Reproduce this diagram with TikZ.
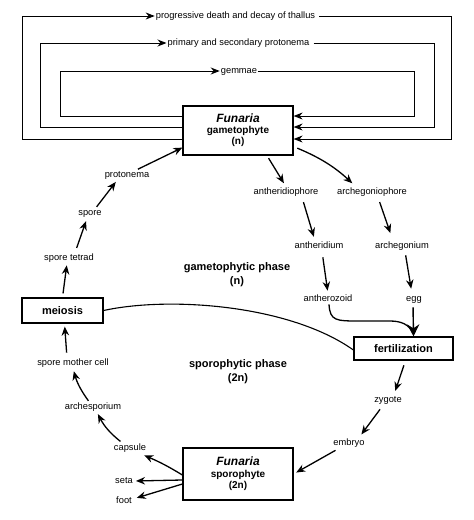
\documentclass[tikz,border=0pt]{standalone}
\usepackage{fontspec}
\setmainfont{Liberation Sans}
\usetikzlibrary{arrows.meta}
\begin{document}
\begin{tikzpicture}[x=1pt,y=-1pt,
  lbl/.style={font=\fontsize{9.3}{10}\selectfont, inner sep=1pt, text height=6.5pt, text depth=1.8pt},
  box/.style={draw, line width=1.2pt, align=center, inner sep=2pt, font=\fontsize{11}{12}\selectfont\bfseries},
  phase/.style={font=\bfseries, align=center},
  arr/.style={line width=1.3pt, -{Stealth[length=9pt,width=7.5pt]}},
  bigarr/.style={line width=1.4pt, -{Stealth[length=12pt,width=12pt]}},
  plainline/.style={line width=1pt},
  looparr/.style={line width=1pt, -{Stealth[length=9pt,width=7pt]}},
]
\useasboundingbox (0,0) rectangle (474,520);
\fill[white] (0,0) rectangle (474,520);

% boxes
\node[box, minimum width=110pt, minimum height=49pt] (gam) at (238,130.5)
  {{\fontsize{12}{13}\selectfont\bfseries\itshape Funaria}\\[-1pt]
   {\fontsize{10}{12}\selectfont gametophyte}\\[-1pt]
   {\fontsize{10}{12}\selectfont (n)}};
\node[box, minimum width=110pt, minimum height=52pt] (spo) at (238,474)
  {{\fontsize{12}{13}\selectfont\bfseries\itshape Funaria}\\[0pt]
   {\fontsize{10}{12}\selectfont sporophyte}\\[-1pt]
   {\fontsize{10}{12}\selectfont (2n)}};
\node[box, minimum width=81pt, minimum height=25pt] (mei) at (62.5,310.5) {meiosis};
\node[box, minimum width=99pt, minimum height=23pt] (fer) at (403.5,348.5) {fertilization};

% loop labels
\node[lbl] (gem) at (239,71) {gemmae};
\node[lbl] (pri) at (238.5,43) {primary and secondary protonema};
\node[lbl] (prg) at (235.5,16) {progressive death and decay of thallus};

% loop heights
\coordinate (yi) at (0,116);
\coordinate (ym) at (0,127);
\coordinate (yo) at (0,139);

\draw[looparr] (gam.west |- yi) -- (60,116) -- (60,71) -- (gem.west);
\draw[looparr] (gem.east) -- (414,71) -- (414,116) -- (gam.east |- yi);
\draw[looparr] (gam.west |- ym) -- (40,127) -- (40,43) -- (pri.west);
\draw[looparr] ([xshift=3pt]pri.east) -- (434,43) -- (434,127) -- (gam.east |- ym);
\draw[looparr] (gam.west |- yo) -- (22,139) -- (22,16) -- (prg.west);
\draw[looparr] ([xshift=3pt]prg.east) -- (451,16) -- (451,139) -- (gam.east |- yo);

% left side labels
\node[lbl] (prot) at (127,175) {protonema};
\node[lbl] (spore) at (90,213) {spore};
\node[lbl] (tet) at (69,258) {spore tetrad};
\node[lbl] (smc) at (73,363) {spore mother cell};
\node[lbl] (arch) at (93,407) {archesporium};
\node[lbl] (caps) at (130,448) {capsule};
\node[lbl] (seta) at (124,481) {seta};
\node[lbl] (foot) at (124,501) {foot};

% right side labels
\node[lbl] (antph) at (286,192) {antheridiophore};
\node[lbl] (archph) at (372,192) {archegoniophore};
\node[lbl] (antd) at (319,246) {antheridium};
\node[lbl] (arg) at (402,246) {archegonium};
\node[lbl] (antz) at (328,299) {antherozoid};
\node[lbl] (egg) at (414,299) {egg};
\node[lbl] (zyg) at (388,400) {zygote};
\node[lbl] (emb) at (349,443) {embryo};

% phase labels
\node[phase, font=\fontsize{11}{14}\selectfont\bfseries] (gp) at (237,275) {gametophytic phase\\(n)};
\node[phase, font=\fontsize{11}{14.5}\selectfont\bfseries] (sp) at (238,371.5) {sporophytic phase\\(2n)};

% left cycle arrows
\draw[arr, shorten <=1pt] ([xshift=10pt]prot.north) -- ([yshift=8pt]gam.south west);
\draw[arr, shorten <=1pt, shorten >=2pt] ([xshift=6pt]spore.north) -- ([xshift=-10pt]prot.south);
\draw[arr, shorten <=5pt, shorten >=3pt] ([xshift=6pt]tet.north) -- ([xshift=-3pt]spore.south);
\draw[arr, shorten <=4pt, shorten >=2pt] (mei.north) -- ([xshift=-2pt]tet.south);
\draw[arr, shorten <=5pt, shorten >=3pt] ([xshift=-6pt]smc.north) -- ([xshift=2pt]mei.south);
\draw[arr, shorten <=1pt, shorten >=3pt] ([xshift=-4pt]arch.north) to[bend left=10] (smc.south);
\draw[arr, shorten <=2pt, shorten >=2pt] ([xshift=-8pt]caps.north) to[bend left=12] ([xshift=4pt]arch.south);

% sporophyte to parts
\draw[arr] ([yshift=-1pt]spo.west) to[bend right=4] ([xshift=-3pt,yshift=-2pt]caps.south east);
\draw[arr, shorten >=2pt] ([yshift=-6pt]spo.west) -- (seta.east);
\draw[arr, shorten >=4pt] ([yshift=-10pt]spo.west) -- ([yshift=2pt]foot.east);

% right side arrows
\draw[arr, shorten <=3pt, shorten >=4pt] ([xshift=29pt]gam.south) -- (antph.north);
\draw[arr, shorten <=4pt, shorten >=5pt] ([yshift=9pt]gam.south east) to[bend left=10] ([xshift=-16pt]archph.north);
\draw[arr, shorten <=5pt, shorten >=4pt] ([xshift=16pt]antph.south) -- ([xshift=-4pt]antd.north);
\draw[arr, shorten <=5pt, shorten >=8pt] ([xshift=6pt]archph.south) -- ([xshift=-9pt]arg.north);
\draw[arr, shorten <=6pt, shorten >=3pt] ([xshift=3pt]antd.south) -- (antz.north);
\draw[arr, shorten <=4pt, shorten >=5pt] ([xshift=3pt]arg.south) -- ([xshift=-2pt]egg.north);

% antherozoid to fertilization
\draw[line width=1.3pt] ([xshift=1pt]antz.south) .. controls (330,321) and (336,321) .. (360,321)
  -- (390,321) .. controls (402,321) and (409,325) .. ([xshift=9pt,yshift=4pt]fer.north);
\draw[bigarr, shorten <=3pt] ([xshift=-1pt]egg.south) -- ([xshift=10pt]fer.north);

% meiosis to fertilization
\draw[line width=1.1pt] (mei.east) .. controls (170,296) and (290,305) .. ([yshift=-1.5pt]fer.west);

% fertilization to sporophyte
\draw[arr, shorten <=5pt, shorten >=4pt] ([xshift=2pt]fer.south) -- ([xshift=6pt]zyg.north);
\draw[arr, shorten <=5pt, shorten >=4pt] ([xshift=-5pt]zyg.south) -- ([xshift=10pt]emb.north);
\draw[arr, shorten <=4pt, shorten >=3pt] ([xshift=-10pt]emb.south) -- (spo.east);
\end{tikzpicture}
\end{document}
